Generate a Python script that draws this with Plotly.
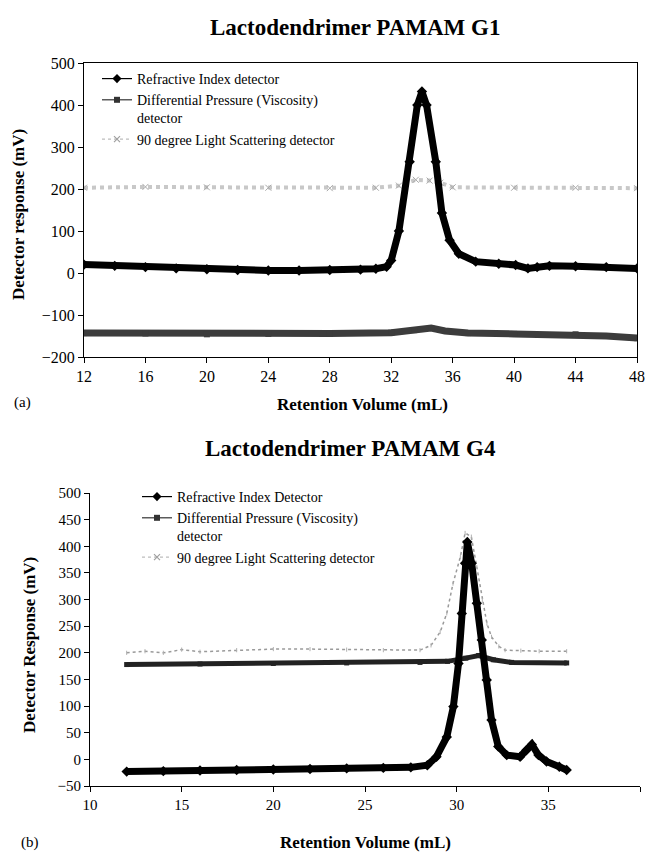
import plotly.graph_objects as go

# ---------------- Data: Lactodendrimer PAMAM G1 (panel a) ----------------
g1_ri_x = [12, 14, 16, 18, 20, 22, 24, 26, 28, 30, 31, 31.7, 32, 32.5, 33.2, 33.7, 34.0, 34.3,
           34.9, 35.3, 35.8, 36.4, 37.5, 39, 40.1, 40.9, 41.5, 42.3, 44, 46, 48]
g1_ri_y = [20, 17, 14, 11, 9, 7, 6, 6, 7, 8, 10, 15, 30, 100, 265, 400, 432, 400,
           265, 143, 78, 46, 27, 22, 19, 11, 14, 17, 16, 14, 11]

g1_dp_x = [12, 16, 20, 24, 28, 32, 33.5, 34.6, 35.5, 37, 40, 44, 46, 48]
g1_dp_y = [-143, -144, -146, -145, -144, -142, -136, -131, -138, -143, -145, -146, -150, -155]

g1_ls_x = [12, 16, 20, 24, 28, 31, 32.5, 33.6, 34.5, 35.2, 36, 40, 44, 48]
g1_ls_y = [203, 205, 204, 203, 202, 203, 208, 222, 220, 215, 204, 203, 203, 202]

# ---------------- Data: Lactodendrimer PAMAM G4 (panel b) ----------------
g4_ri_x = [12, 14, 16, 18, 20, 22, 24, 26, 27.5, 28.4, 28.9, 29.46, 29.82, 30.1, 30.28, 30.46,
           30.58, 30.82, 31.1, 31.37, 31.64, 31.9, 32.27, 32.73, 33.46, 33.8, 34.1, 34.46,
           34.9, 35.6, 36]
g4_ri_y = [-23, -22, -21, -20, -19, -18, -17, -16, -15, -11, 5, 42, 99, 180, 274, 368,
           408, 368, 293, 224, 149, 74, 24, 8, 5, 17, 28, 8,
           -4, -14, -20]

g4_dp_x = [12, 16, 20, 24, 28, 29.5, 30.5, 31.2, 32, 33, 36]
g4_dp_y = [178, 179, 180, 181, 182, 184, 190, 195, 187, 182, 181]

g4_ls_x = [12, 13, 14, 15, 16, 18, 20, 22, 24, 26, 28, 28.6, 29.1, 29.46, 29.8, 30.2, 30.46,
           30.8, 31.1, 31.4, 31.65, 31.9, 32.3, 32.64, 33.5, 34.5, 36]
g4_ls_y = [200, 203, 200, 206, 202, 205, 207, 207, 206, 205, 205, 214, 239, 274, 330, 380, 425,
           418, 361, 299, 255, 230, 212, 205, 204, 203, 203]

names_a = ["Refractive Index detector",
           "Differential Pressure (Viscosity)<br>detector",
           "90 degree Light Scattering detector"]
names_b = ["Refractive Index Detector",
           "Differential Pressure (Viscosity)<br>detector",
           "90 degree Light Scattering detector"]

W, H = 646, 853
FONT = "Liberation Serif"


def fx(p):
    return p / W


def fy(p):
    return 1 - p / H


fig = go.Figure()

# ---- panel a (data traces) ----
fig.add_trace(go.Scatter(x=g1_ls_x, y=g1_ls_y, mode="lines+markers", showlegend=False,
                         line=dict(color="#c8c8c8", width=4, dash="dot"),
                         marker=dict(symbol="x-thin-open", size=6, color="#a8a8a8",
                                     line=dict(width=1, color="#a8a8a8")),
                         xaxis="x", yaxis="y"))
fig.add_trace(go.Scatter(x=g1_dp_x, y=g1_dp_y, mode="lines+markers", showlegend=False,
                         line=dict(color="#3c3c3c", width=7),
                         marker=dict(symbol="square", size=6, color="#3c3c3c"),
                         xaxis="x", yaxis="y"))
fig.add_trace(go.Scatter(x=g1_ri_x, y=g1_ri_y, mode="lines+markers", showlegend=False,
                         line=dict(color="black", width=7),
                         marker=dict(symbol="diamond", size=8, color="black"),
                         xaxis="x", yaxis="y"))

# ---- panel b (data traces) ----
fig.add_trace(go.Scatter(x=g4_ls_x, y=g4_ls_y, mode="lines+markers", showlegend=False,
                         line=dict(color="#9a9a9a", width=1.5, dash="dot"),
                         marker=dict(symbol="line-ns-open", size=3, color="#b0b0b0",
                                     line=dict(width=1, color="#b0b0b0")),
                         xaxis="x2", yaxis="y2"))
fig.add_trace(go.Scatter(x=g4_dp_x, y=g4_dp_y, mode="lines+markers", showlegend=False,
                         line=dict(color="#222222", width=5),
                         marker=dict(symbol="square", size=5, color="#222222"),
                         xaxis="x2", yaxis="y2"))
fig.add_trace(go.Scatter(x=g4_ri_x, y=g4_ri_y, mode="lines+markers", showlegend=False,
                         line=dict(color="black", width=7),
                         marker=dict(symbol="diamond", size=8, color="black"),
                         xaxis="x2", yaxis="y2"))

# ---- legend entries (thin symbols like the original key) ----
legend_styles = [
    dict(line=dict(color="black", width=1.2),
         marker=dict(symbol="diamond", size=7, color="black")),
    dict(line=dict(color="#333333", width=1.2),
         marker=dict(symbol="square", size=6, color="#333333")),
    dict(line=dict(color="#bdbdbd", width=1.2, dash="dot"),
         marker=dict(symbol="x-thin-open", size=6, color="#a0a0a0",
                     line=dict(width=1.2, color="#a0a0a0"))),
]
for i in range(3):
    fig.add_trace(go.Scatter(x=[None], y=[None], name=names_a[i], mode="lines+markers",
                             xaxis="x", yaxis="y", legend="legend", legendrank=i + 1,
                             **legend_styles[i]))
    fig.add_trace(go.Scatter(x=[None], y=[None], name=names_b[i], mode="lines+markers",
                             xaxis="x2", yaxis="y2", legend="legend2", legendrank=i + 1,
                             **legend_styles[i]))

axis_common = dict(showgrid=False, zeroline=False, showline=True, linecolor="black",
                   linewidth=1, ticks="outside", ticklen=5, tickcolor="black",
                   automargin=False)

legend_common = dict(xanchor="left", yanchor="top", bgcolor="rgba(0,0,0,0)",
                     font=dict(family=FONT, size=14, color="black"),
                     valign="top", itemwidth=30, tracegroupgap=0)

annotations = [
    dict(text="<b>Lactodendrimer PAMAM G1</b>", x=fx(355), y=fy(27), font=dict(size=23)),
    dict(text="<b>Lactodendrimer PAMAM G4</b>", x=fx(350), y=fy(448), font=dict(size=23)),
    dict(text="<b>Retention Volume (mL)</b>", x=fx(362), y=fy(405), font=dict(size=17)),
    dict(text="<b>Retention Volume (mL)</b>", x=fx(365), y=fy(842), font=dict(size=17)),
    dict(text="<b>Detector response (mV)</b>", x=fx(18), y=fy(215), textangle=-90,
         font=dict(size=17)),
    dict(text="<b>Detector Response (mV)</b>", x=fx(29), y=fy(645), textangle=-90,
         font=dict(size=17)),
    dict(text="(a)", x=fx(22), y=fy(402), font=dict(size=15)),
    dict(text="(b)", x=fx(30), y=fy(842), font=dict(size=15)),
]
for a in annotations:
    a.update(xref="paper", yref="paper", showarrow=False, xanchor="center", yanchor="middle")
    a["font"].update(family=FONT, color="black")

fig.update_layout(
    width=W, height=H,
    margin=dict(l=0, r=0, t=0, b=0),
    paper_bgcolor="white", plot_bgcolor="white",
    font=dict(family=FONT, color="black"),
    xaxis=dict(domain=[fx(84), fx(637)], range=[12, 48], tickvals=list(range(12, 49, 4)),
               anchor="y", mirror=True, tickfont=dict(family=FONT, size=16, color="black"),
               **axis_common),
    yaxis=dict(domain=[fy(357), fy(63)], range=[-200, 500], dtick=100,
               anchor="x", mirror=True, tickfont=dict(family=FONT, size=16, color="black"),
               **axis_common),
    xaxis2=dict(domain=[fx(90), fx(640)], range=[10, 40], dtick=5, anchor="y2",
                tickfont=dict(family=FONT, size=15, color="black"), **axis_common),
    yaxis2=dict(domain=[fy(786), fy(493)], range=[-50, 500], dtick=50, anchor="x2",
                tickfont=dict(family=FONT, size=15, color="black"), **axis_common),
    legend=dict(x=fx(97), y=fy(63), **legend_common),
    legend2=dict(x=fx(137), y=fy(481), **legend_common),
    annotations=annotations,
    showlegend=True,
)

fig.write_html(
    "out.html",
    config={"displayModeBar": False},
    post_script="document.body.style.margin='0';document.body.style.overflow='hidden';"
                "document.documentElement.style.overflow='hidden';",
)
